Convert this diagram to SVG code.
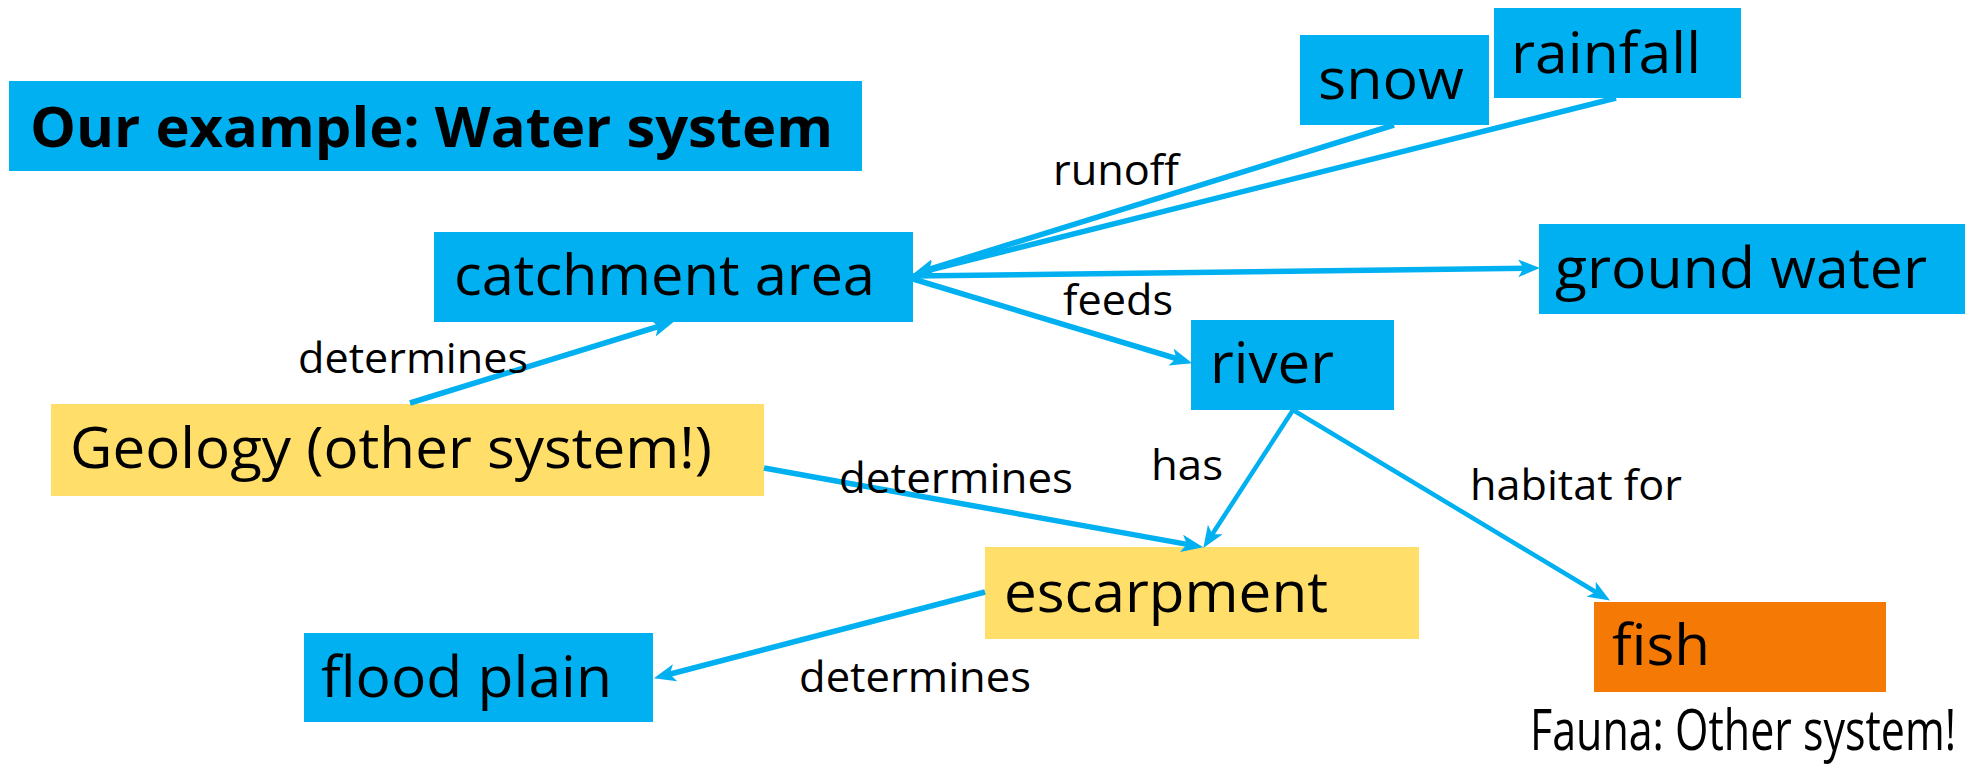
<svg xmlns="http://www.w3.org/2000/svg" width="1975" height="766" viewBox="0 0 1975 766">
  <style>
    .blue { fill: #00B0F0; }
    .yellow { fill: #FFDE6A; }
    .orange { fill: #F57A05; }
    .node { font-family: "Open Sans", "Noto Sans", "Liberation Sans", sans-serif; font-size: 57px; fill: #000; }
    .title { font-family: "Open Sans", "Noto Sans", "Liberation Sans", sans-serif; font-size: 55px; font-weight: 700; fill: #000; }
    .lbl { font-family: "Open Sans", "Noto Sans", "Liberation Sans", sans-serif; font-size: 42px; fill: #000; }
    .edge { stroke: #00B0F0; stroke-width: 5.5; fill: none; marker-end: url(#arrow); }
    .thin { stroke-width: 4.5; }
  </style>
  <defs>
    <marker id="arrow" viewBox="0 0 20 16" refX="8" refY="8" markerWidth="22" markerHeight="18" markerUnits="userSpaceOnUse" orient="auto">
      <path d="M0,0 L20,8 L0,16 L5,8 Z" fill="#00B0F0"/>
    </marker>
  </defs>

  <rect width="1975" height="766" fill="#FFFFFF"/>

  <!-- title -->
  <g id="title">
    <rect class="blue" x="9" y="81" width="853" height="90"/>
    <text class="title" x="30" y="147" textLength="803" lengthAdjust="spacingAndGlyphs">Our example: Water system</text>
  </g>

  <!-- nodes -->
  <g id="snow">
    <rect class="blue" x="1300" y="35" width="189" height="90"/>
    <text class="node" x="1318" y="99" textLength="146" lengthAdjust="spacingAndGlyphs">snow</text>
  </g>
  <g id="rainfall">
    <rect class="blue" x="1494" y="8" width="247" height="90"/>
    <text class="node" x="1511" y="73" textLength="190" lengthAdjust="spacingAndGlyphs">rainfall</text>
  </g>
  <g id="catchment-area">
    <rect class="blue" x="434" y="232" width="479" height="90"/>
    <text class="node" x="454" y="295" textLength="421" lengthAdjust="spacingAndGlyphs">catchment area</text>
  </g>
  <g id="ground-water">
    <rect class="blue" x="1539" y="224" width="426" height="90"/>
    <text class="node" x="1555" y="288" textLength="372" lengthAdjust="spacingAndGlyphs">ground water</text>
  </g>
  <g id="geology">
    <rect class="yellow" x="51" y="404" width="713" height="92"/>
    <text class="node" x="70" y="468" textLength="642" lengthAdjust="spacingAndGlyphs">Geology (other system!)</text>
  </g>
  <g id="river">
    <rect class="blue" x="1191" y="320" width="203" height="90"/>
    <text class="node" x="1210" y="383" textLength="124" lengthAdjust="spacingAndGlyphs">river</text>
  </g>
  <g id="escarpment">
    <rect class="yellow" x="985" y="547" width="434" height="92"/>
    <text class="node" x="1004" y="612" textLength="324" lengthAdjust="spacingAndGlyphs">escarpment</text>
  </g>
  <g id="fish">
    <rect class="orange" x="1594" y="602" width="292" height="90"/>
    <text class="node" x="1612" y="665" textLength="98" lengthAdjust="spacingAndGlyphs">fish</text>
  </g>
  <g id="flood-plain">
    <rect class="blue" x="304" y="633" width="349" height="89"/>
    <text class="node" x="321" y="697" textLength="291" lengthAdjust="spacingAndGlyphs">flood plain</text>
  </g>
  <g id="fauna-note">
    <text class="node" x="1530" y="750" font-size="43" textLength="426" lengthAdjust="spacingAndGlyphs">Fauna: Other system!</text>
  </g>

  <!-- connectors -->
  <g id="connectors">
    <line class="edge" x1="1394" y1="125" x2="925.5" y2="270.4"/>
    <line class="edge" x1="1616" y1="98" x2="925.6" y2="271.1"/>
    <line class="edge" x1="913" y1="276" x2="1527" y2="268.2"/>
    <line class="edge" x1="913" y1="279" x2="1179.5" y2="359.5"/>
    <line class="edge" x1="410" y1="403" x2="661.5" y2="325.5"/>
    <line class="edge" x1="764" y1="468" x2="1190.2" y2="544.9"/>
    <line class="edge thin" x1="1293" y1="410" x2="1210.5" y2="536.9"/>
    <line class="edge thin" x1="1293" y1="410" x2="1598.7" y2="593.8"/>
    <line class="edge" x1="985" y1="592" x2="666.6" y2="675"/>
  </g>

  <!-- connector labels -->
  <g id="labels">
    <text class="lbl" x="1053" y="185" textLength="126" lengthAdjust="spacingAndGlyphs">runoff</text>
    <text class="lbl" x="1063" y="315" textLength="110" lengthAdjust="spacingAndGlyphs">feeds</text>
    <text class="lbl" x="298" y="373" textLength="230" lengthAdjust="spacingAndGlyphs">determines</text>
    <text class="lbl" x="839" y="493" textLength="234" lengthAdjust="spacingAndGlyphs">determines</text>
    <text class="lbl" x="1151" y="480" textLength="72" lengthAdjust="spacingAndGlyphs">has</text>
    <text class="lbl" x="1470" y="500" textLength="212" lengthAdjust="spacingAndGlyphs">habitat for</text>
    <text class="lbl" x="799" y="692" textLength="232" lengthAdjust="spacingAndGlyphs">determines</text>
  </g>
</svg>
